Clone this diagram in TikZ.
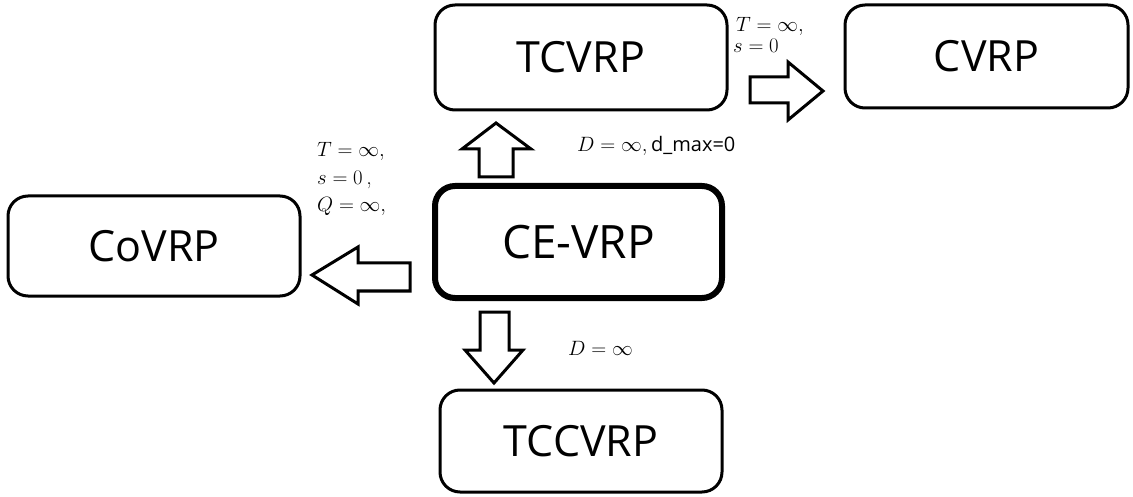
\documentclass[tikz,border=0pt]{standalone}
\usepackage{fontspec}
\newfontfamily\boxfont{Open Sans}
\begin{document}
\begin{tikzpicture}[x=1pt,y=-1pt,
  box/.style={draw, line width=3pt, rounded corners=20pt, inner sep=0pt,
    font=\boxfont\fontsize{43}{43}\selectfont},
  mainbox/.style={box, line width=6pt, font=\boxfont\fontsize{46}{46}\selectfont},
  blockarrow/.style={draw, line width=3pt, fill=white, line join=miter},
  lbl/.style={inner sep=0pt, anchor=base west, font=\fontsize{22}{22}\selectfont}]
\useasboundingbox (0,0) rectangle (1133,497);

% boxes
\node[box, minimum width=292pt, minimum height=105pt] (tcvrp) at (581,57.5) {TCVRP};
\node[box, minimum width=283pt, minimum height=103pt] (cvrp) at (986.5,56.5) {CVRP};
\node[box, minimum width=292pt, minimum height=100pt] (covrp) at (154,246) {CoVRP};
\node[mainbox, minimum width=287pt, minimum height=112pt] (cevrp) at (578.5,242) {CE-VRP};
\node[box, minimum width=282pt, minimum height=102pt] (tccvrp) at (581,441) {TCCVRP};

% block arrows
\draw[blockarrow] (750,77) -- (788,77) -- (788,62) -- (823,91) -- (788,120) -- (788,103) -- (750,103) -- cycle;
\draw[blockarrow] (479,177) -- (479,149) -- (462,149) -- (496,123) -- (531,149) -- (513,149) -- (513,177) -- cycle;
\draw[blockarrow] (480,312) -- (509,312) -- (509,350) -- (523,350) -- (494,383) -- (465,350) -- (480,350) -- cycle;
\draw[blockarrow] (410,263) -- (358,263) -- (358,247) -- (312,275) -- (358,304) -- (358,291) -- (410,291) -- cycle;

% labels
\node[lbl] (l1a) at (736,32) {$T=\infty,$};
\node[lbl] (l1b) at (733,53) {$s=0$};
\node[lbl] (l2a) at (317,157) {$T=\infty,$};
\node[lbl] (l2b) at (317,185) {$s=0$\,,};
\node[lbl] (l2c) at (317,212) {$Q=\infty,$};
\node[lbl] (l3) at (577,152) {$D=\infty,$\,{\boxfont\fontsize{20}{20}\selectfont d\_max=0}};
\node[lbl] (l4) at (568,355) {$D=\infty$};
\end{tikzpicture}
\end{document}
